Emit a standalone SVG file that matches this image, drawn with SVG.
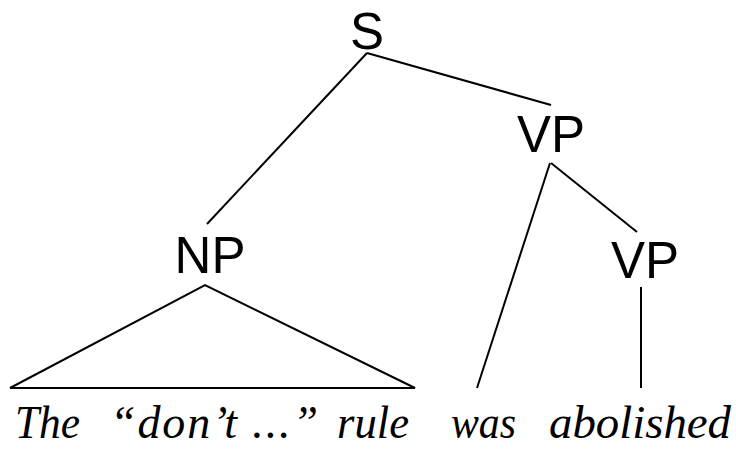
<svg xmlns="http://www.w3.org/2000/svg" width="736" height="450" viewBox="0 0 736 450">
<style>
.lab{font-family:"Liberation Sans",Arial,sans-serif;font-size:51px;fill:#000;text-anchor:middle}
.w{font-family:"Liberation Serif","Times New Roman",serif;font-style:italic;font-size:46px;fill:#000}
.e{stroke:#000;stroke-width:2;fill:none}
</style>
<rect width="736" height="450" fill="#fff"/>
<g id="connectors">
<line class="e" x1="367" y1="53" x2="207" y2="224"/>
<line class="e" x1="367" y1="53" x2="551" y2="105"/>
<polyline class="e" points="10,388 205,285 415,388 10,388"/>
<line class="e" x1="550" y1="163" x2="477" y2="388"/>
<line class="e" x1="551" y1="163" x2="637" y2="232"/>
<line class="e" x1="641" y1="287" x2="641" y2="388"/>
</g>
<g id="S"><text class="lab" x="367" y="49">S</text></g>
<g id="VP1"><text class="lab" x="551" y="152">VP</text></g>
<g id="NP"><text class="lab" x="210" y="273">NP</text></g>
<g id="VP2"><text class="lab" x="645" y="278">VP</text></g>
<g id="words">
<text class="w" x="15" y="438" textLength="65" lengthAdjust="spacingAndGlyphs">The</text>
<text class="w" x="110" y="438" textLength="208" lengthAdjust="spacing">“don’t ...”</text>
<text class="w" x="337" y="438" textLength="72" lengthAdjust="spacingAndGlyphs">rule</text>
<text class="w" x="451" y="438" textLength="65" lengthAdjust="spacingAndGlyphs">was</text>
<text class="w" x="549" y="438" textLength="182" lengthAdjust="spacingAndGlyphs">abolished</text>
</g>
</svg>
